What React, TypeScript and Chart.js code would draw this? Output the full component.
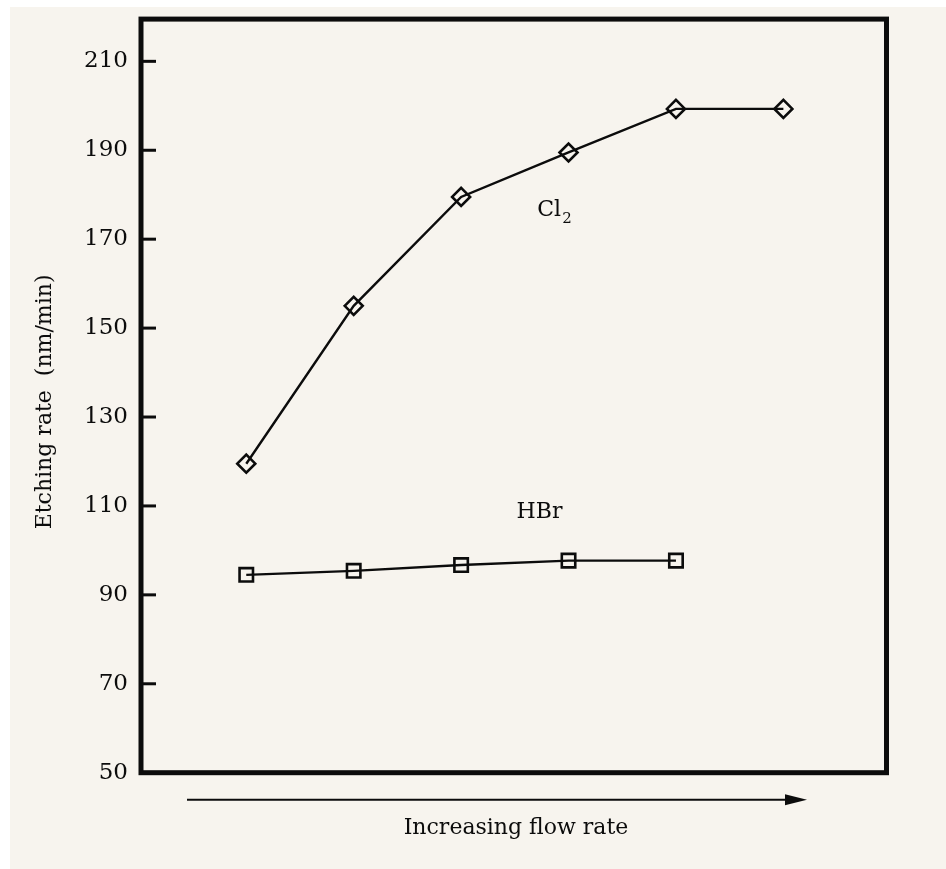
import React, { useEffect, useRef } from "react";
import { Chart, registerables } from "chart.js";

Chart.register(...registerables);

const flowSteps = [1, 2, 3, 4, 5, 6];
const cl2Rate = [119.5, 155, 179.5, 189.5, 199.3, 199.3];
const hbrSteps = [1, 2, 3, 4, 5];
const hbrRate = [94.5, 95.4, 96.7, 97.7, 97.7];
const yTicks = [50, 70, 90, 110, 130, 150, 170, 190, 210];
const yTitle = "Etching rate  (nm/min)";
const xTitle = "Increasing flow rate";
const cl2Label = { x: 3.83, y: 177, text: "Cl", sub: "2" };
const hbrLabel = { x: 3.73, y: 109, text: "HBr" };

const BG = "#f7f4ee";
const INK = "#0c0c0c";
const FONT = "'DejaVu Serif', 'Liberation Serif', serif";

const decorPlugin = {
  id: "decor",
  beforeDraw(chart: any) {
    const { ctx, width, height } = chart;
    ctx.save();
    ctx.fillStyle = BG;
    ctx.fillRect(0, 0, width, height);
    ctx.restore();
  },
  afterDraw(chart: any) {
    const { ctx, chartArea: a, scales } = chart;
    const ys = scales.y;
    const xs = scales.x;
    ctx.save();
    // frame
    ctx.strokeStyle = INK;
    ctx.lineWidth = 5;
    ctx.strokeRect(a.left, a.top, a.right - a.left, a.bottom - a.top);
    // inward ticks
    ctx.lineWidth = 3;
    for (const v of yTicks) {
      if (v === yTicks[0]) continue;
      const py = ys.getPixelForValue(v);
      ctx.beginPath();
      ctx.moveTo(a.left, py);
      ctx.lineTo(a.left + 15, py);
      ctx.stroke();
    }
    // series labels
    ctx.fillStyle = INK;
    ctx.textBaseline = "alphabetic";
    ctx.textAlign = "left";
    ctx.font = `22px ${FONT}`;
    const cx = xs.getPixelForValue(cl2Label.x);
    const cy = ys.getPixelForValue(cl2Label.y);
    const w = ctx.measureText(cl2Label.text).width;
    ctx.fillText(cl2Label.text, cx - 13, cy + 8);
    ctx.font = `15px ${FONT}`;
    ctx.fillText(cl2Label.sub, cx - 13 + w + 1, cy + 15);
    ctx.font = `22px ${FONT}`;
    ctx.textAlign = "center";
    ctx.fillText(hbrLabel.text, xs.getPixelForValue(hbrLabel.x), ys.getPixelForValue(hbrLabel.y) + 8);
    // arrow
    const ay = a.bottom + 27;
    const ax0 = a.left + 46;
    const ax1 = a.left + 666;
    ctx.lineWidth = 2;
    ctx.beginPath();
    ctx.moveTo(ax0, ay);
    ctx.lineTo(ax1 - 18, ay);
    ctx.stroke();
    ctx.beginPath();
    ctx.moveTo(ax1, ay);
    ctx.lineTo(ax1 - 22, ay - 5.5);
    ctx.lineTo(ax1 - 22, ay + 5.5);
    ctx.closePath();
    ctx.fill();
    // x title
    ctx.font = `22px ${FONT}`;
    ctx.textAlign = "center";
    ctx.textBaseline = "middle";
    ctx.fillText(xTitle, a.left + 375, a.bottom + 56);
    // y title
    ctx.translate(35, (a.top + a.bottom) / 2 + 6);
    ctx.rotate(-Math.PI / 2);
    ctx.fillText(yTitle, 0, 0);
    ctx.restore();
  },
};

export default function App() {
  const ref = useRef<HTMLCanvasElement | null>(null);
  useEffect(() => {
    if (!ref.current) return;
    const chart = new Chart(ref.current, {
      type: "line",
      data: {
        datasets: [
          {
            label: "Cl2",
            data: flowSteps.map((x, i) => ({ x, y: cl2Rate[i] })),
            borderColor: INK,
            borderWidth: 2.4,
            pointStyle: "rectRot",
            pointRadius: 9,
            pointBorderWidth: 2.6,
            pointBorderColor: INK,
            pointBackgroundColor: "rgba(0,0,0,0)",
            tension: 0,
          },
          {
            label: "HBr",
            data: hbrSteps.map((x, i) => ({ x, y: hbrRate[i] })),
            borderColor: INK,
            borderWidth: 2.4,
            pointStyle: "rect",
            pointRadius: 9.5,
            pointBorderWidth: 2.6,
            pointBorderColor: INK,
            pointBackgroundColor: "rgba(0,0,0,0)",
            tension: 0,
          },
        ],
      },
      options: {
        animation: false,
        responsive: false,
        maintainAspectRatio: false,
        layout: { padding: { top: 9.5, right: 59.5, left: 0, bottom: 0 } },
        plugins: { legend: { display: false }, tooltip: { enabled: false } },
        scales: {
          x: {
            type: "linear",
            min: 0.02,
            max: 6.96,
            grid: { display: false, drawTicks: false },
            border: { display: false },
            ticks: { display: false },
            afterFit: (s: any) => {
              s.height = 96.3;
              s.paddingLeft = 0;
              s.paddingRight = 0;
            },
          },
          y: {
            type: "linear",
            min: 50,
            max: 219.5,
            grid: { display: false, drawTicks: false },
            border: { display: false },
            ticks: {
              padding: 13,
              color: INK,
              font: { family: FONT, size: 23 },
            },
            afterBuildTicks: (s: any) => {
              s.ticks = yTicks.map((v) => ({ value: v }));
            },
            afterFit: (s: any) => {
              s.width = 131;
              s.paddingTop = 0;
              s.paddingBottom = 0;
            },
          },
        },
      },
      plugins: [decorPlugin],
    });
    return () => chart.destroy();
  }, []);
  return (
    <div style={{ position: "fixed", left: 0, top: 0, width: 946, height: 869, background: "#ffffff" }}>
      <canvas
        ref={ref}
        width={936}
        height={862}
        style={{ position: "absolute", left: 10, top: 7, width: 936, height: 862 }}
      />
    </div>
  );
}
